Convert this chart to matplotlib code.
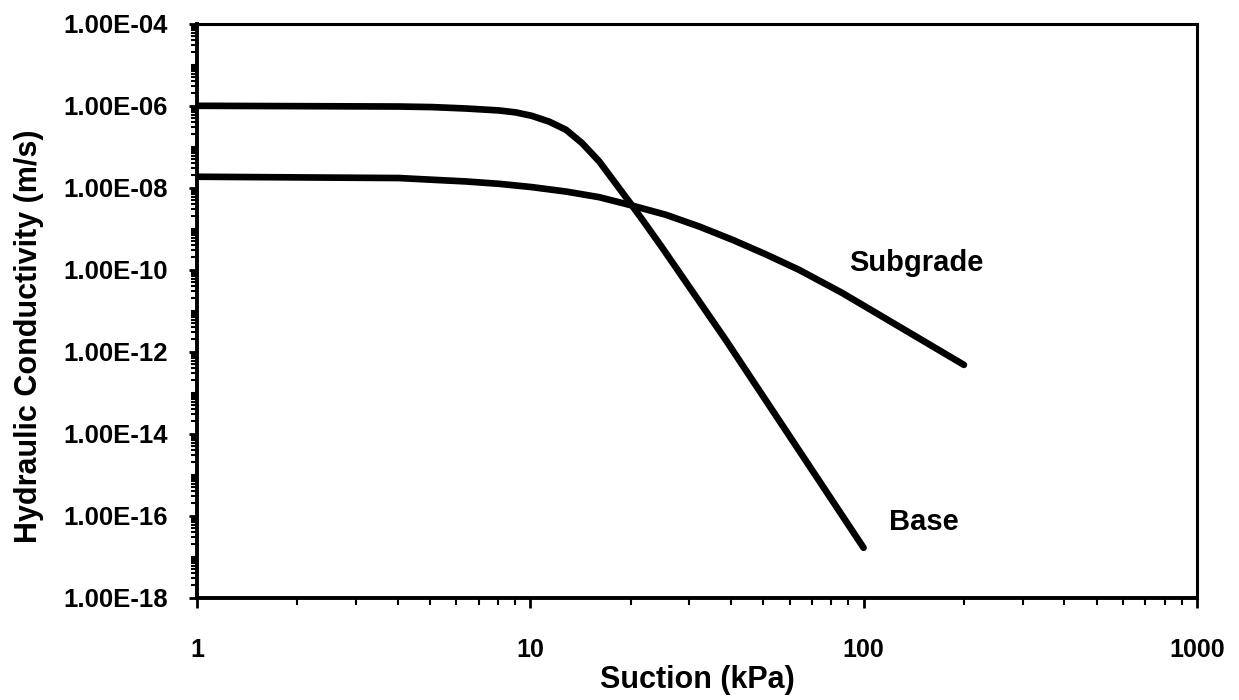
import numpy as np
import matplotlib.pyplot as plt
from matplotlib.ticker import FixedLocator, LogLocator, FuncFormatter, NullFormatter

plt.rcParams['font.family'] = ['Liberation Sans', 'DejaVu Sans']
plt.rcParams['font.weight'] = 'bold'
plt.rcParams['axes.labelweight'] = 'bold'

# Suction (kPa) and hydraulic conductivity (m/s)
base_suction = [1, 4.04, 5.08, 6.40, 8.06, 9.04, 10.1, 11.4, 12.8, 14.3, 16.1, 18.0,
                19.8, 21.7, 24.8, 38.6, 61.0, 100]
base_k = [1.0e-6, 9.6e-7, 9.3e-7, 8.6e-7, 7.7e-7, 6.9e-7, 5.7e-7, 4.1e-7, 2.6e-7,
          1.23e-7, 4.4e-8, 1.3e-8, 4.6e-9, 1.66e-9, 3.6e-10, 1.94e-12, 7.1e-15,
          1.66e-17]

subgrade_suction = [1, 4.04, 5.08, 6.40, 8.06, 10.1, 12.8, 16.1, 19.8, 25.5, 32.1,
                    40.4, 50.8, 64.0, 86.1, 128, 200]
subgrade_k = [1.86e-8, 1.73e-8, 1.57e-8, 1.43e-8, 1.25e-8, 1.04e-8, 8.1e-9, 5.9e-9,
              3.85e-9, 2.2e-9, 1.14e-9, 5.4e-10, 2.4e-10, 1.0e-10, 2.75e-11,
              4.1e-12, 4.8e-13]

x_ticks = [1, 10, 100, 1000]
y_ticks = [1e-18, 1e-16, 1e-14, 1e-12, 1e-10, 1e-8, 1e-6, 1e-4]

fig = plt.figure(figsize=(12.39, 7), dpi=100)
ax = fig.add_axes([0.159, 0.146, 0.807, 0.82])

ax.plot(base_suction, base_k, color='black', lw=4.8, solid_capstyle='round',
        solid_joinstyle='round')
ax.plot(subgrade_suction, subgrade_k, color='black', lw=4.8, solid_capstyle='round',
        solid_joinstyle='round')

ax.set_xscale('log')
ax.set_yscale('log')
ax.set_xlim(1, 1000)
ax.set_ylim(1e-18, 1e-4)

ax.xaxis.set_major_locator(FixedLocator(x_ticks))
ax.xaxis.set_major_formatter(FuncFormatter(lambda v, p: f"{v:g}"))
ax.xaxis.set_minor_locator(LogLocator(base=10, subs=np.arange(2, 10), numticks=50))
ax.xaxis.set_minor_formatter(NullFormatter())

ax.yaxis.set_major_locator(FixedLocator(y_ticks))
ax.yaxis.set_major_formatter(FuncFormatter(lambda v, p: f"{v:.2E}"))
ax.yaxis.set_minor_locator(LogLocator(base=10, subs=np.arange(1, 10), numticks=200))
ax.yaxis.set_minor_formatter(NullFormatter())

ax.tick_params(axis='x', which='major', direction='out', length=7, width=2,
               pad=22, labelsize=18)
ax.tick_params(axis='x', which='minor', direction='out', length=5, width=1.5)
ax.tick_params(axis='y', which='major', direction='out', length=6, width=2,
               pad=15, labelsize=18.5)
ax.tick_params(axis='y', which='minor', direction='out', length=4, width=1.5)

for side in ['left', 'bottom']:
    ax.spines[side].set_linewidth(2.8)
for side in ['top', 'right']:
    ax.spines[side].set_linewidth(2.2)

ax.set_xlabel("Suction (kPa)", fontsize=22, labelpad=2)
ax.set_ylabel("Hydraulic Conductivity (m/s)", fontsize=22)
ax.yaxis.set_label_coords(-0.153, 0.455)

ax.text(144, 1.5e-10, "Subgrade", fontsize=21, ha='center', va='center')
ax.text(152, 7e-17, "Base", fontsize=21, ha='center', va='center')

fig.savefig("out.png", dpi=100)
